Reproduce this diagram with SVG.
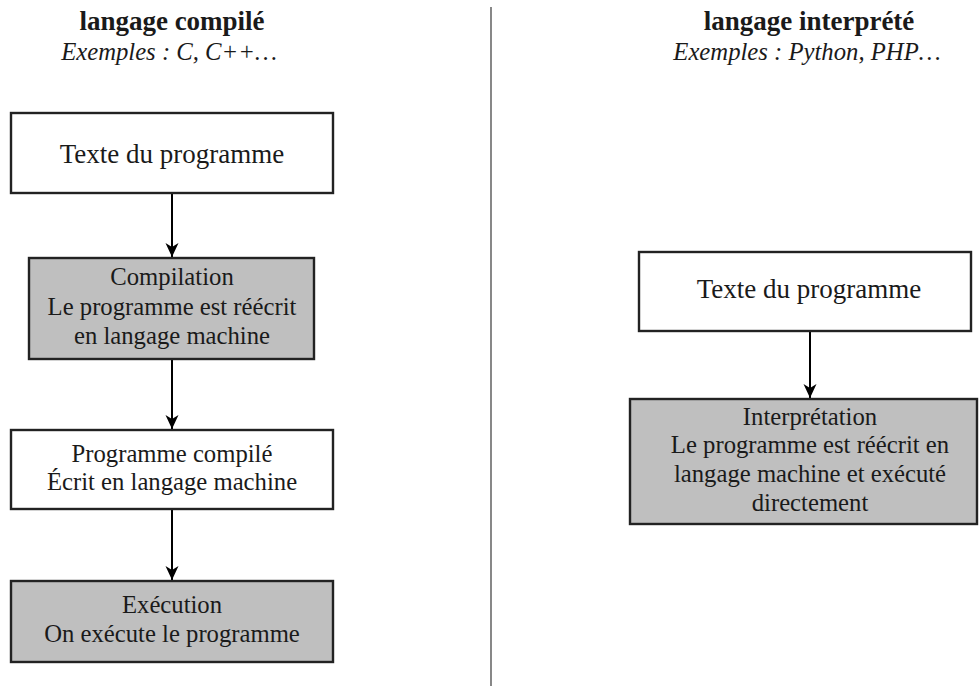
<svg xmlns="http://www.w3.org/2000/svg" width="979" height="686" viewBox="0 0 979 686">
<style>
.box{stroke:#222;stroke-width:2.4}
.w{fill:#fff}
.g{fill:#bfbfbf}
text{font-family:"Liberation Serif","Times New Roman",serif;fill:#1a1a1a;text-anchor:middle}
.big{font-size:27px}
.t{font-size:24.7px}
.title{font-size:27px;font-weight:bold}
.sub{font-size:24.7px;font-style:italic}
.conn{stroke:#000;stroke-width:2;fill:none}
</style>
<defs>
<marker id="arr" markerUnits="userSpaceOnUse" markerWidth="16" markerHeight="16" viewBox="-14 -8 16 16" refX="0" refY="0" orient="auto">
<path d="M0,0 L-14,-6.5 L-10,0 L-14,6.5 Z" fill="#000"/>
</marker>
</defs>
<rect width="979" height="686" fill="#fff"/>
<line id="divider" x1="491" y1="7" x2="491" y2="686" stroke="#555" stroke-width="1.4"/>
<g id="titles">
<text class="title" x="172" y="30">langage compilé</text>
<text class="sub" x="169" y="60">Exemples : C, C++…</text>
<text class="title" x="809" y="30">langage interprété</text>
<text class="sub" x="807" y="60">Exemples : Python, PHP…</text>
</g>
<g id="connectors">
<line class="conn" x1="172" y1="194" x2="172" y2="257" marker-end="url(#arr)"/>
<line class="conn" x1="172" y1="360" x2="172" y2="429" marker-end="url(#arr)"/>
<line class="conn" x1="172" y1="510" x2="172" y2="580" marker-end="url(#arr)"/>
<line class="conn" x1="810" y1="332" x2="810" y2="398" marker-end="url(#arr)"/>
</g>
<g id="texte-compile">
<rect class="box w" x="11" y="113" width="322" height="80"/>
<text class="big" x="172" y="163">Texte du programme</text>
</g>
<g id="compilation">
<rect class="box g" x="29" y="258" width="285" height="101"/>
<text class="t" x="172" y="285">Compilation</text>
<text class="t" x="172" y="315">Le programme est réécrit</text>
<text class="t" x="172" y="344">en langage machine</text>
</g>
<g id="programme-compile">
<rect class="box w" x="11" y="430" width="322" height="79"/>
<text class="t" x="172" y="462">Programme compilé</text>
<text class="t" x="172" y="490">Écrit en langage machine</text>
</g>
<g id="execution">
<rect class="box g" x="11" y="581" width="322" height="81"/>
<text class="t" x="172" y="613">Exécution</text>
<text class="t" x="172" y="642">On exécute le programme</text>
</g>
<g id="texte-interprete">
<rect class="box w" x="639" y="252" width="332" height="79"/>
<text class="big" x="809" y="298">Texte du programme</text>
</g>
<g id="interpretation">
<rect class="box g" x="630" y="399" width="347" height="125"/>
<text class="t" x="810" y="425">Interprétation</text>
<text class="t" x="810" y="453">Le programme est réécrit en</text>
<text class="t" x="810" y="482">langage machine et exécuté</text>
<text class="t" x="810" y="511">directement</text>
</g>
</svg>
